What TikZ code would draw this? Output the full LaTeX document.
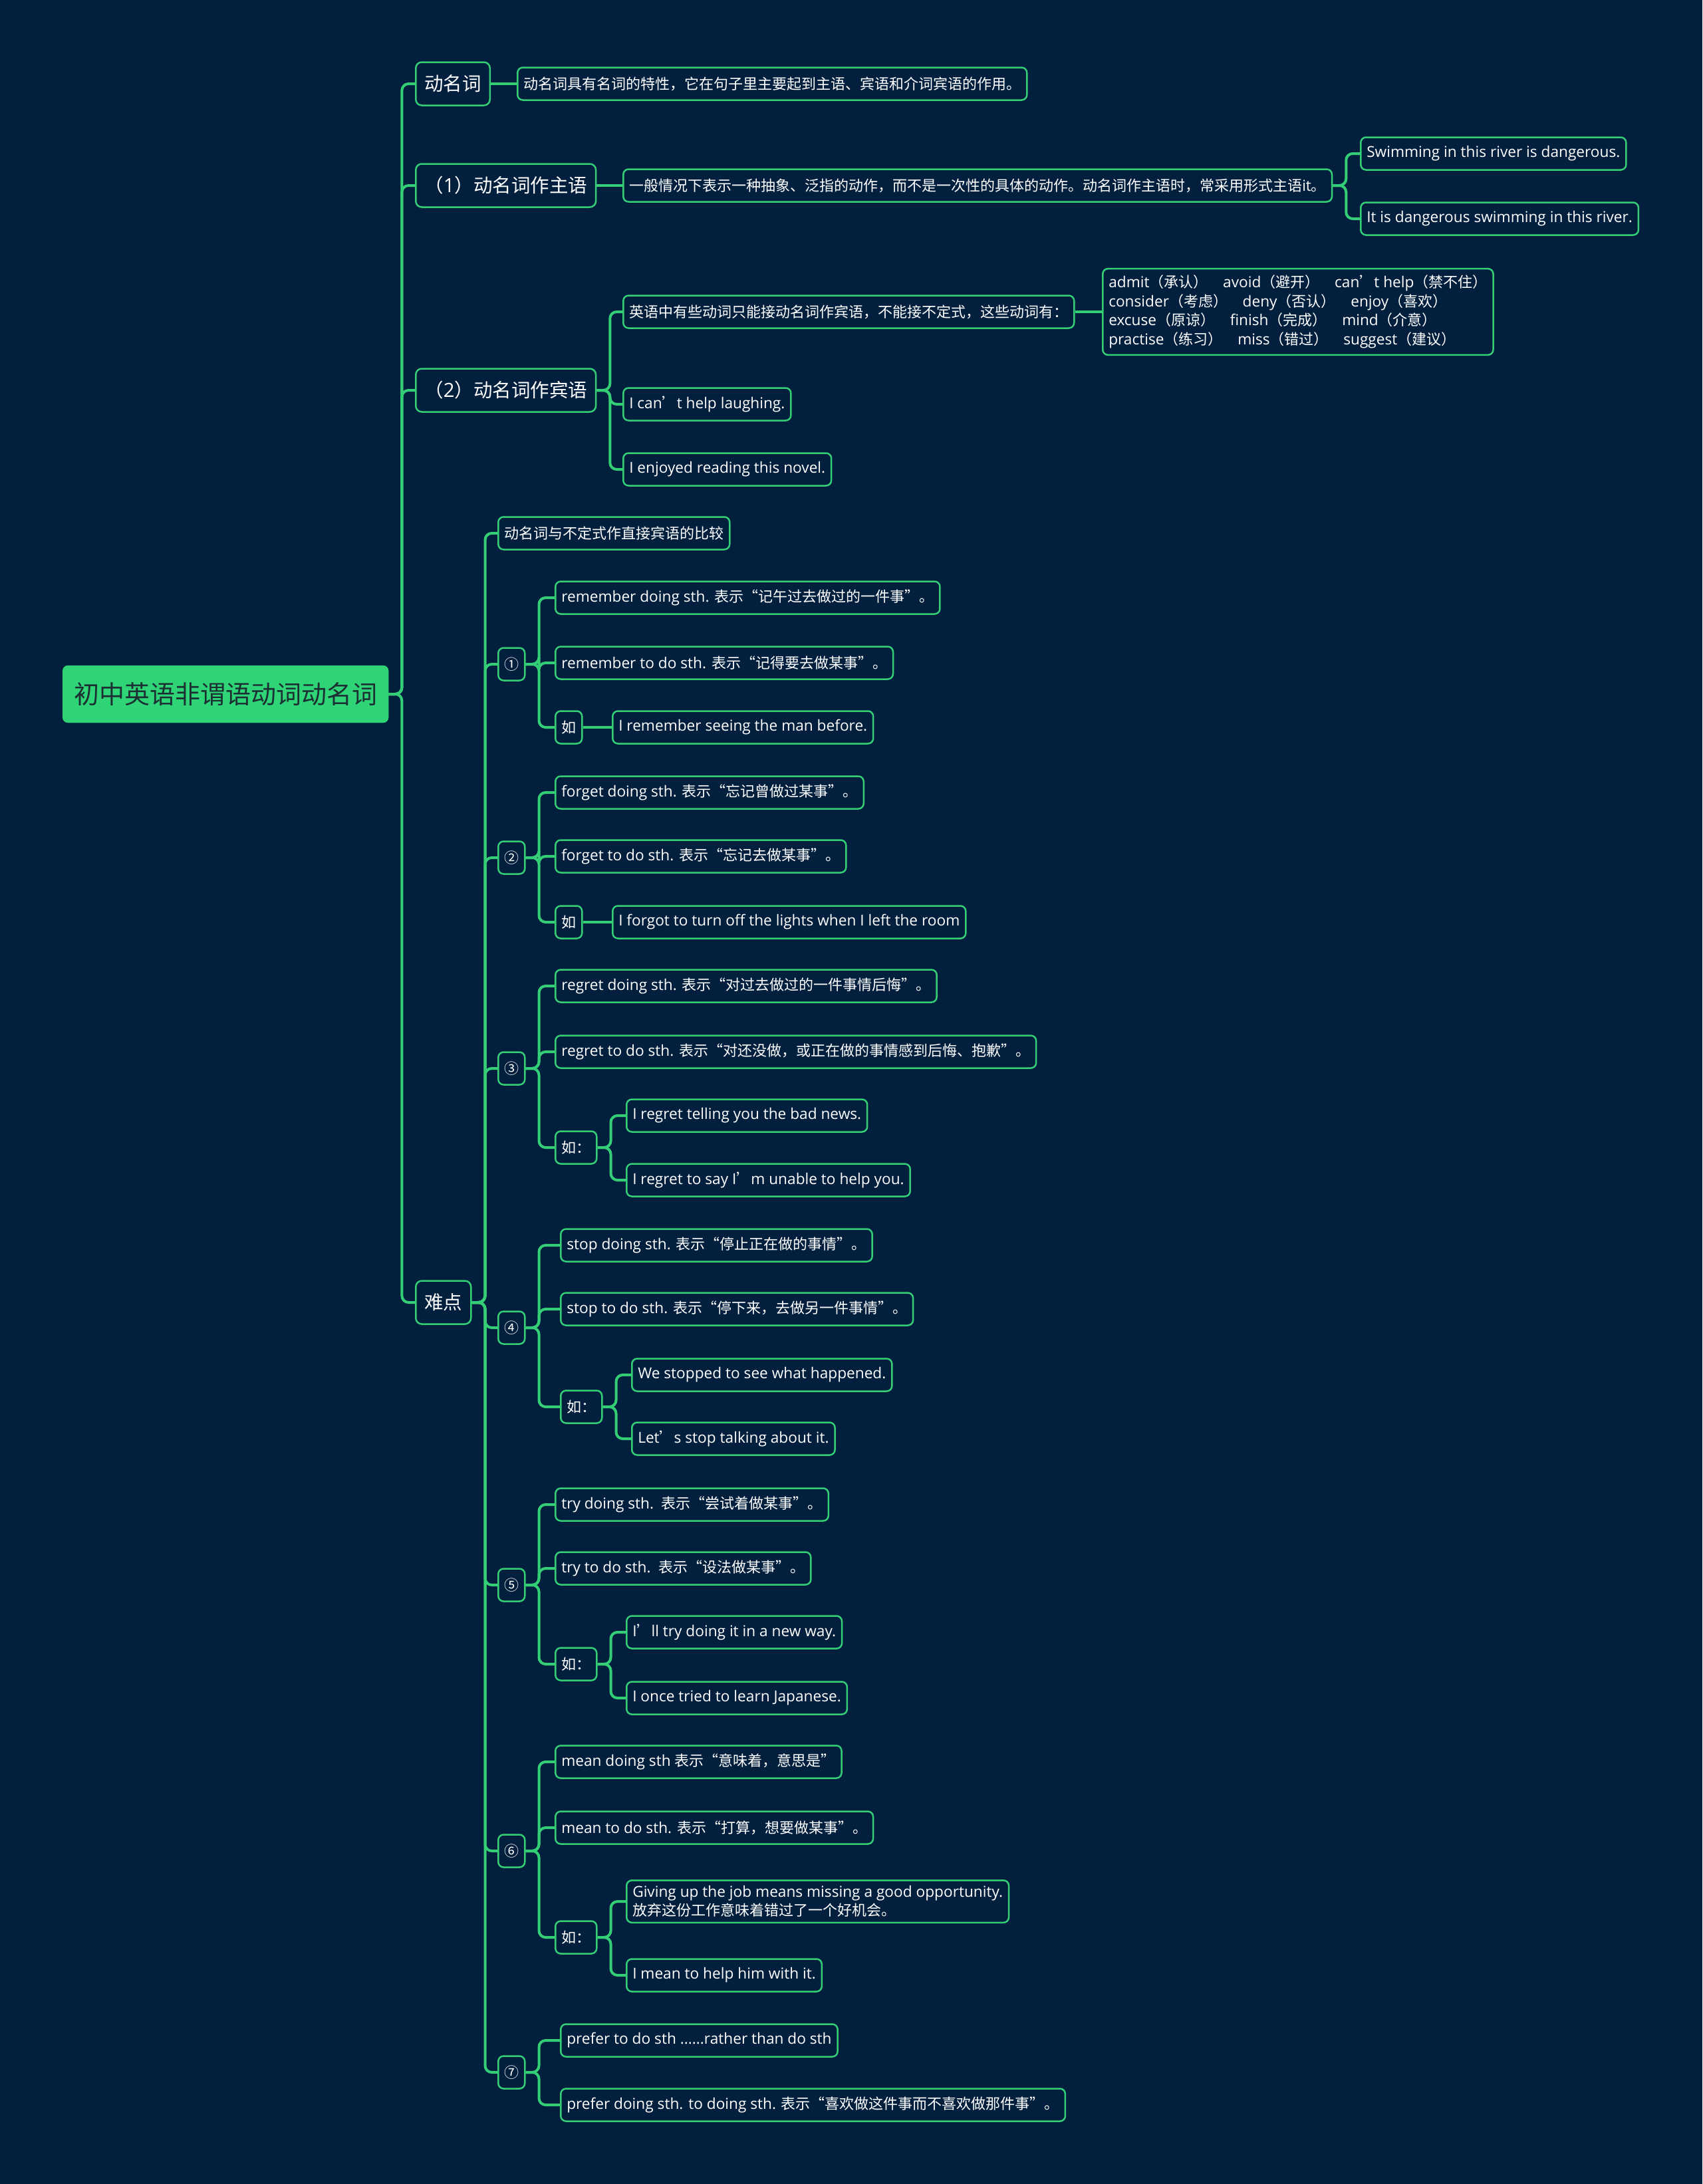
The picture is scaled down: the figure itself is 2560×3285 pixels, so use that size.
\documentclass[tikz,border=0pt]{standalone}
\usepackage{fontspec}
\setmainfont[Scale=1.03]{Open Sans}
\newfontfamily\cjkfont{Noto Sans CJK SC}
\usepackage{tikz}
\usetikzlibrary{positioning}
\usepackage{xcolor}
\definecolor{bgnavy}{RGB}{2, 32, 62}
\definecolor{mapgreen}{RGB}{52, 206, 118}
\definecolor{rootfill}{RGB}{46, 212, 117}
\definecolor{roottext}{RGB}{28, 48, 52}

% Chinese characters, full-width punctuation and circled numbers in the CJK font
\XeTeXinterchartokenstate=1
\newXeTeXintercharclass\cjkcls
\newcount\cjkcode
\newcommand{\cjkrange}[2]{\cjkcode=#1
  \loop\XeTeXcharclass\cjkcode=\cjkcls
  \ifnum\cjkcode<#2 \advance\cjkcode by 1 \repeat}
\cjkrange{"4E00}{"9FFF}
\cjkrange{"3000}{"303F}
\cjkrange{"FF00}{"FFEF}
\cjkrange{"2018}{"201D}
\cjkrange{"2460}{"2473}
\XeTeXinterchartoks 0 \cjkcls = {\begingroup\cjkfont}
\XeTeXinterchartoks 4095 \cjkcls = {\begingroup\cjkfont}
\XeTeXinterchartoks \cjkcls 0 = {\endgroup}
\XeTeXinterchartoks \cjkcls 4095 = {\endgroup}

\tikzset{
  rootnode/.style={fill=rootfill, draw=rootfill, text=roottext, rounded corners=8pt, minimum height=86pt, inner xsep=17pt, font=\fontsize{38}{44}\selectfont, anchor=west},
  topic/.style={draw=mapgreen, line width=2.5pt, fill=bgnavy, text=white, rounded corners=9pt, minimum height=65pt, inner xsep=13pt, font=\fontsize{28.5}{33}\selectfont, anchor=west},
  leaf/.style={draw=mapgreen, line width=2.5pt, fill=bgnavy, text=white, rounded corners=8pt, minimum height=49pt, inner xsep=9pt, font=\fontsize{22}{28.5}\selectfont, anchor=west, align=left},
  link/.style={draw=mapgreen, line width=4pt, rounded corners=10pt},
}
\newcommand{\branch}[2]{\draw[link] (#1.east) -- ++(20,0) |- (#2.west);}

\begin{document}
\begin{tikzpicture}[x=1pt, y=-1pt]
      \fill[bgnavy] (0,0) rectangle (2560,3285);
      \useasboundingbox (0,0) rectangle (2560,3285);

      % root and main topics
      \node[rootnode] (root) at (94, 1044) {初中英语非谓语动词动名词};
      \node[topic] (dmc) at (624, 126) {动名词};
      \node[topic] (subj) at (624, 279) {（1）动名词作主语};
      \node[topic] (obj) at (624, 587) {（2）动名词作宾语};
      \node[topic] (nd) at (624, 1959) {难点};

      % 动名词
      \node[leaf] (dmcdef) at (777, 126) {动名词具有名词的特性，它在句子里主要起到主语、宾语和介词宾语的作用。};

      % 作主语
      \node[leaf] (subjdef) at (936, 279) {一般情况下表示一种抽象、泛指的动作，而不是一次性的具体的动作。动名词作主语时，常采用形式主语it。};
      \node[leaf] (subjex1) at (2045, 231) {Swimming in this river is dangerous.};
      \node[leaf] (subjex2) at (2045, 329) {It is dangerous swimming in this river.};

      % 作宾语
      \node[leaf] (objdef) at (936, 469) {英语中有些动词只能接动名词作宾语，不能接不定式，这些动词有：};
      \node[leaf, inner ysep=10pt] (objlist) at (1657, 469) {admit（承认）\quad avoid（避开）\quad can’t help（禁不住）\\consider（考虑）\quad deny（否认）\quad enjoy（喜欢）\\excuse（原谅）\quad finish（完成）\quad mind（介意）\\practise（练习）\quad miss（错过）\quad suggest（建议）};
      \node[leaf] (objex1) at (936, 608) {I can’t help laughing.};
      \node[leaf] (objex2) at (936, 706) {I enjoyed reading this novel.};

      % 难点
      \node[leaf] (cmp) at (748, 802) {动名词与不定式作直接宾语的比较};
      \node[leaf] (n1) at (748, 999) {①};
      \node[leaf] (n2) at (748, 1290) {②};
      \node[leaf] (n3) at (748, 1607) {③};
      \node[leaf] (n4) at (748, 1997) {④};
      \node[leaf] (n5) at (748, 2384) {⑤};
      \node[leaf] (n6) at (748, 2784) {⑥};
      \node[leaf] (n7) at (748, 3117) {⑦};

      % ①
      \node[leaf] (n1a) at (834, 899) {remember doing sth. 表示“记午过去做过的一件事”。};
      \node[leaf] (n1b) at (834, 997) {remember to do sth. 表示“记得要去做某事”。};
      \node[leaf] (n1eg) at (834, 1094) {如};
      \node[leaf] (n1ex) at (920, 1094) {I remember seeing the man before.};

      % ②
      \node[leaf] (n2a) at (834, 1192) {forget doing sth. 表示“忘记曾做过某事”。};
      \node[leaf] (n2b) at (834, 1288) {forget to do sth. 表示“忘记去做某事”。};
      \node[leaf] (n2eg) at (834, 1387) {如};
      \node[leaf] (n2ex) at (920, 1387) {I forgot to turn off the lights when I left the room};

      % ③
      \node[leaf] (n3a) at (834, 1483) {regret doing sth. 表示“对过去做过的一件事情后悔”。};
      \node[leaf] (n3b) at (834, 1582) {regret to do sth. 表示“对还没做，或正在做的事情感到后悔、抱歉”。};
      \node[leaf] (n3eg) at (834, 1726) {如：};
      \node[leaf] (n3ex1) at (941, 1678) {I regret telling you the bad news.};
      \node[leaf] (n3ex2) at (941, 1775) {I regret to say I’m unable to help you.};

      % ④
      \node[leaf] (n4a) at (842, 1873) {stop doing sth. 表示“停止正在做的事情”。};
      \node[leaf] (n4b) at (842, 1969) {stop to do sth. 表示“停下来，去做另一件事情”。};
      \node[leaf] (n4eg) at (842, 2116) {如：};
      \node[leaf] (n4ex1) at (949, 2068) {We stopped to see what happened.};
      \node[leaf] (n4ex2) at (949, 2164) {Let’s stop talking about it.};

      % ⑤
      \node[leaf] (n5a) at (834, 2263) {try doing sth.\ \ 表示“尝试着做某事”。};
      \node[leaf] (n5b) at (834, 2359) {try to do sth.\ \ 表示“设法做某事”。};
      \node[leaf] (n5eg) at (834, 2503) {如：};
      \node[leaf] (n5ex1) at (941, 2455) {I’ll try doing it in a new way.};
      \node[leaf] (n5ex2) at (941, 2554) {I once tried to learn Japanese.};

      % ⑥
      \node[leaf] (n6a) at (834, 2650) {mean doing sth 表示“意味着，意思是”};
      \node[leaf] (n6b) at (834, 2749) {mean to do sth. 表示“打算，想要做某事”。};
      \node[leaf] (n6eg) at (834, 2914) {如：};
      \node[leaf, inner ysep=8pt] (n6ex1) at (941, 2860) {Giving up the job means missing a good opportunity.\\放弃这份工作意味着错过了一个好机会。};
      \node[leaf] (n6ex2) at (941, 2971) {I mean to help him with it.};

      % ⑦
      \node[leaf] (n7a) at (842, 3069) {prefer to do sth ......rather than do sth};
      \node[leaf] (n7b) at (842, 3166) {prefer doing sth. to doing sth. 表示“喜欢做这件事而不喜欢做那件事”。};

      % connectors
      \foreach \t in {dmc, subj, obj, nd} {\branch{root}{\t}}
      \draw[link] (dmc) -- (dmcdef);
      \draw[link] (subj) -- (subjdef);
      \branch{subjdef}{subjex1}
      \branch{subjdef}{subjex2}
      \foreach \t in {objdef, objex1, objex2} {\branch{obj}{\t}}
      \draw[link] (objdef) -- (objlist);
      \foreach \t in {cmp, n1, n2, n3, n4, n5, n6, n7} {\branch{nd}{\t}}
      \foreach \t in {n1a, n1b, n1eg} {\branch{n1}{\t}}
      \draw[link] (n1eg) -- (n1ex);
      \foreach \t in {n2a, n2b, n2eg} {\branch{n2}{\t}}
      \draw[link] (n2eg) -- (n2ex);
      \foreach \t in {n3a, n3b, n3eg} {\branch{n3}{\t}}
      \foreach \t in {n3ex1, n3ex2} {\branch{n3eg}{\t}}
      \foreach \t in {n4a, n4b, n4eg} {\branch{n4}{\t}}
      \foreach \t in {n4ex1, n4ex2} {\branch{n4eg}{\t}}
      \foreach \t in {n5a, n5b, n5eg} {\branch{n5}{\t}}
      \foreach \t in {n5ex1, n5ex2} {\branch{n5eg}{\t}}
      \foreach \t in {n6a, n6b, n6eg} {\branch{n6}{\t}}
      \foreach \t in {n6ex1, n6ex2} {\branch{n6eg}{\t}}
      \foreach \t in {n7a, n7b} {\branch{n7}{\t}}
    \end{tikzpicture}
\end{document}
